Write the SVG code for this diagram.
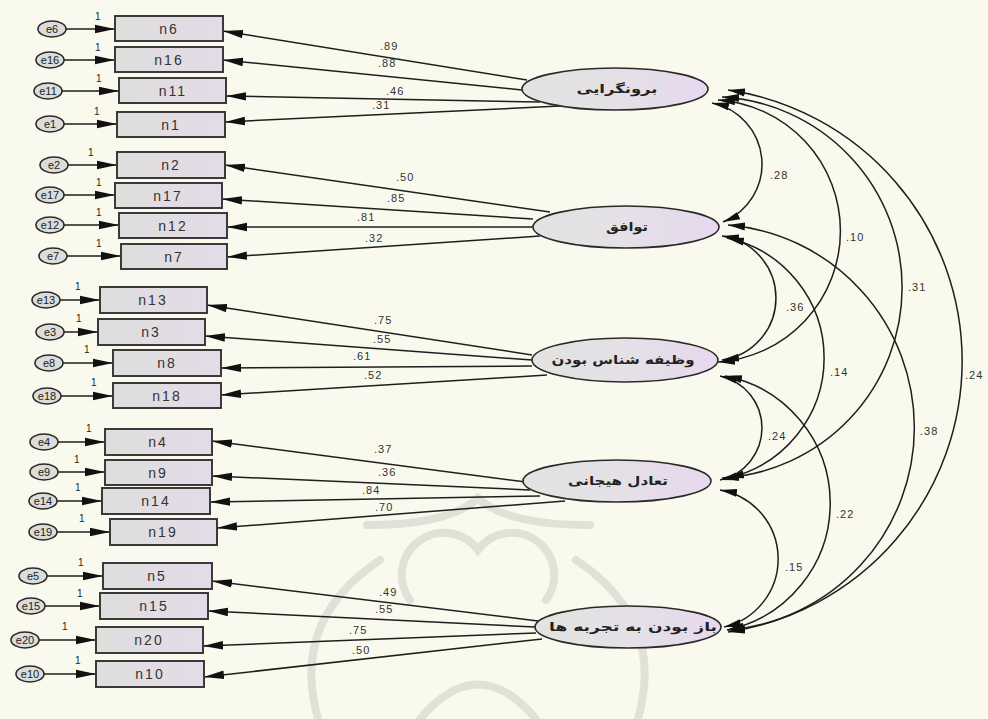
<svg xmlns="http://www.w3.org/2000/svg" width="988" height="719" viewBox="0 0 988 719">
<defs>
<linearGradient id="gEl" x1="0" y1="0" x2="1" y2="0">
<stop offset="0" stop-color="#e3e3e1"/><stop offset="0.45" stop-color="#e4e1e6"/><stop offset="1" stop-color="#e7d8ef"/>
</linearGradient>
<linearGradient id="gBox" x1="0" y1="0" x2="1" y2="0">
<stop offset="0" stop-color="#dededc"/><stop offset="1" stop-color="#e4dbe8"/>
</linearGradient>
<marker id="ah" markerUnits="userSpaceOnUse" markerWidth="21" markerHeight="10" refX="20" refY="5" orient="auto-start-reverse" viewBox="0 0 21 10">
<path d="M0,0.8 L20,5 L0,9.2 z" fill="#111"/>
</marker>
<marker id="ac" markerUnits="userSpaceOnUse" markerWidth="18" markerHeight="10" refX="17" refY="5" orient="auto-start-reverse" viewBox="0 0 18 10">
<path d="M0,1 L17,5 L0,9 z" fill="#111"/>
</marker>
</defs>
<style>
.bx{fill:url(#gBox);stroke:#3a3a3a;stroke-width:2}
.er{fill:#dcdcda;stroke:#2a2a2a;stroke-width:1.6}
.lv{fill:url(#gEl);stroke:#2a2a2a;stroke-width:1.6}
.ln{fill:none;stroke:#1e1e1e;stroke-width:1.5;marker-end:url(#ah)}
.cv{fill:none;stroke:#1e1e1e;stroke-width:1.5;marker-start:url(#ac);marker-end:url(#ac)}
.tb{font-family:"Liberation Sans",Arial,sans-serif;font-size:14px;fill:#333;text-anchor:middle;letter-spacing:2px}
.te{font-family:"Liberation Sans",Arial,sans-serif;font-size:11px;fill:#222;text-anchor:middle}
.t1{font-family:"Liberation Sans",Arial,sans-serif;font-size:10px;fill:#222}
.tl{font-family:"Liberation Sans",Arial,sans-serif;font-size:11px;fill:#333;letter-spacing:1px}
.ta{font-family:"DejaVu Sans",sans-serif;font-size:12px;font-weight:bold;fill:#222;text-anchor:middle}
.wm{fill:none;stroke:#e1e1d7;stroke-width:8;stroke-linecap:round}
</style>
<rect x="0" y="0" width="988" height="719" fill="#f9f9ee"/>
<g id="watermark">
<path class="wm" d="M367,525 Q450,525 478,498 Q506,525 590,525"/>
<path class="wm" d="M318,719 Q290,620 380,560"/>
<path class="wm" d="M638,719 Q666,620 576,560"/>
<path class="wm" d="M410,600 A40 40 0 0 1 478,550 A40 40 0 0 1 546,600"/>
<path class="wm" d="M420,719 Q478,650 536,719"/>
</g>
<g id="connectors">
<path class="ln" d="M66,29 L115,29"/>
<path class="ln" d="M64,60 L115,60"/>
<path class="ln" d="M62,91 L119,91"/>
<path class="ln" d="M64,124 L117,124"/>
<path class="ln" d="M68,165 L117,165"/>
<path class="ln" d="M64,195 L115,195"/>
<path class="ln" d="M64,225 L119,225"/>
<path class="ln" d="M67,256 L121,256"/>
<path class="ln" d="M60,300 L100,300"/>
<path class="ln" d="M64,332 L98,332"/>
<path class="ln" d="M63,363 L113,363"/>
<path class="ln" d="M61,396 L113,396"/>
<path class="ln" d="M58,442 L105,442"/>
<path class="ln" d="M58,472 L105,472"/>
<path class="ln" d="M57,501 L102,501"/>
<path class="ln" d="M57,532 L110,532"/>
<path class="ln" d="M47,576 L103,576"/>
<path class="ln" d="M45,606 L100,606"/>
<path class="ln" d="M39,640 L96,640"/>
<path class="ln" d="M44,674 L96,674"/>
<path class="ln" d="M527,80 L223,31"/>
<path class="ln" d="M522,90 L223,60"/>
<path class="ln" d="M540,102 L226,96"/>
<path class="ln" d="M560,106 L225,122"/>
<path class="ln" d="M550,212 L225,165"/>
<path class="ln" d="M533,219 L222,199"/>
<path class="ln" d="M533,227 L227,227"/>
<path class="ln" d="M540,236 L227,257"/>
<path class="ln" d="M532,355 L207,305"/>
<path class="ln" d="M532,360 L205,336"/>
<path class="ln" d="M532,366 L221,368"/>
<path class="ln" d="M547,375 L221,395"/>
<path class="ln" d="M526,482 L212,441"/>
<path class="ln" d="M530,490 L212,476"/>
<path class="ln" d="M540,496 L210,502"/>
<path class="ln" d="M565,501 L217,528"/>
<path class="ln" d="M538,621 L212,581"/>
<path class="ln" d="M535,627 L208,611"/>
<path class="ln" d="M536,633 L203,646"/>
<path class="ln" d="M542,639 L204,677"/>
<path class="cv" d="M712,103 A62.4 62.4 0 0 1 723,222"/>
<path class="cv" d="M718,100 A131.3 131.3 0 0 1 718,362"/>
<path class="cv" d="M722,97 A190.8 190.8 0 0 1 722,478"/>
<path class="cv" d="M728,90 A273.9 273.9 0 0 1 728,632"/>
<path class="cv" d="M722,236 A62.6 62.6 0 0 1 722,360"/>
<path class="cv" d="M727,238 A122.7 122.7 0 0 1 727,478"/>
<path class="cv" d="M728,225 A203.2 203.2 0 0 1 728,630"/>
<path class="cv" d="M720,376 A53.2 53.2 0 0 1 720,480"/>
<path class="cv" d="M725,376 A129.5 129.5 0 0 1 727,630"/>
<path class="cv" d="M720,490 A69.9 69.9 0 0 1 724,627"/>
</g>
<g id="loading-labels">
<text class="tl" x="380" y="50">.89</text>
<text class="tl" x="378" y="67">.88</text>
<text class="tl" x="386" y="95">.46</text>
<text class="tl" x="372" y="109">.31</text>
<text class="tl" x="396" y="181">.50</text>
<text class="tl" x="387" y="202">.85</text>
<text class="tl" x="357" y="221">.81</text>
<text class="tl" x="365" y="242">.32</text>
<text class="tl" x="374" y="324">.75</text>
<text class="tl" x="373" y="343">.55</text>
<text class="tl" x="353" y="360">.61</text>
<text class="tl" x="364" y="379">.52</text>
<text class="tl" x="374" y="453">.37</text>
<text class="tl" x="378" y="476">.36</text>
<text class="tl" x="362" y="494">.84</text>
<text class="tl" x="375" y="511">.70</text>
<text class="tl" x="379" y="596">.49</text>
<text class="tl" x="375" y="613">.55</text>
<text class="tl" x="349" y="634">.75</text>
<text class="tl" x="352" y="654">.50</text>
</g>
<g id="cov-labels">
<text class="tl" x="770" y="179">.28</text>
<text class="tl" x="846" y="241">.10</text>
<text class="tl" x="908" y="291">.31</text>
<text class="tl" x="965" y="379">.24</text>
<text class="tl" x="786" y="311">.36</text>
<text class="tl" x="830" y="376">.14</text>
<text class="tl" x="920" y="435">.38</text>
<text class="tl" x="768" y="440">.24</text>
<text class="tl" x="836" y="518">.22</text>
<text class="tl" x="785" y="571">.15</text>
</g>
<g id="F1"><ellipse class="lv" cx="615" cy="89" rx="93" ry="21"/><text class="ta" x="617" y="93" textLength="81" lengthAdjust="spacingAndGlyphs">برونگرایی</text></g>
<g id="F2"><ellipse class="lv" cx="626" cy="227" rx="93" ry="21"/><text class="ta" x="627" y="231" textLength="42" lengthAdjust="spacingAndGlyphs">توافق</text></g>
<g id="F3"><ellipse class="lv" cx="625" cy="360" rx="93" ry="22"/><text class="ta" x="623" y="364" textLength="143" lengthAdjust="spacingAndGlyphs">وظیفه شناس بودن</text></g>
<g id="F4"><ellipse class="lv" cx="617" cy="481" rx="94" ry="21"/><text class="ta" x="618" y="485" textLength="100" lengthAdjust="spacingAndGlyphs">تعادل هیجانی</text></g>
<g id="F5"><ellipse class="lv" cx="628" cy="627" rx="93" ry="21"/><text class="ta" x="633" y="631" textLength="168" lengthAdjust="spacingAndGlyphs">باز بودن به تجربه ها</text></g>
<g id="r-n6"><ellipse class="er" cx="52" cy="29" rx="14" ry="8"/><text class="te" x="52" y="33">e6</text><text class="t1" x="95" y="20">1</text><rect class="bx" x="115" y="16" width="108" height="25"/><text class="tb" x="169" y="34">n6</text></g>
<g id="r-n16"><ellipse class="er" cx="50" cy="60" rx="14" ry="8"/><text class="te" x="50" y="64">e16</text><text class="t1" x="95" y="51">1</text><rect class="bx" x="115" y="47" width="108" height="25"/><text class="tb" x="169" y="65">n16</text></g>
<g id="r-n11"><ellipse class="er" cx="48" cy="91" rx="14" ry="8"/><text class="te" x="48" y="95">e11</text><text class="t1" x="96" y="82">1</text><rect class="bx" x="119" y="78" width="107" height="25"/><text class="tb" x="173" y="96">n11</text></g>
<g id="r-n1"><ellipse class="er" cx="50" cy="124" rx="14" ry="8"/><text class="te" x="50" y="128">e1</text><text class="t1" x="94" y="115">1</text><rect class="bx" x="117" y="112" width="108" height="25"/><text class="tb" x="171" y="130">n1</text></g>
<g id="r-n2"><ellipse class="er" cx="54" cy="165" rx="14" ry="8"/><text class="te" x="54" y="169">e2</text><text class="t1" x="88" y="156">1</text><rect class="bx" x="117" y="152" width="108" height="26"/><text class="tb" x="171" y="170">n2</text></g>
<g id="r-n17"><ellipse class="er" cx="50" cy="195" rx="14" ry="8"/><text class="te" x="50" y="199">e17</text><text class="t1" x="96" y="186">1</text><rect class="bx" x="115" y="183" width="107" height="25"/><text class="tb" x="168" y="201">n17</text></g>
<g id="r-n12"><ellipse class="er" cx="50" cy="225" rx="14" ry="8"/><text class="te" x="50" y="229">e12</text><text class="t1" x="96" y="216">1</text><rect class="bx" x="119" y="213" width="108" height="25"/><text class="tb" x="173" y="231">n12</text></g>
<g id="r-n7"><ellipse class="er" cx="53" cy="256" rx="14" ry="8"/><text class="te" x="53" y="260">e7</text><text class="t1" x="96" y="247">1</text><rect class="bx" x="121" y="244" width="106" height="25"/><text class="tb" x="174" y="262">n7</text></g>
<g id="r-n13"><ellipse class="er" cx="46" cy="300" rx="14" ry="8"/><text class="te" x="46" y="304">e13</text><text class="t1" x="75" y="290">1</text><rect class="bx" x="100" y="287" width="107" height="26"/><text class="tb" x="153" y="305">n13</text></g>
<g id="r-n3"><ellipse class="er" cx="50" cy="332" rx="14" ry="8"/><text class="te" x="50" y="336">e3</text><text class="t1" x="76" y="322">1</text><rect class="bx" x="98" y="319" width="107" height="26"/><text class="tb" x="151" y="337">n3</text></g>
<g id="r-n8"><ellipse class="er" cx="49" cy="363" rx="14" ry="8"/><text class="te" x="49" y="367">e8</text><text class="t1" x="84" y="353">1</text><rect class="bx" x="113" y="350" width="108" height="26"/><text class="tb" x="167" y="368">n8</text></g>
<g id="r-n18"><ellipse class="er" cx="47" cy="396" rx="14" ry="8"/><text class="te" x="47" y="400">e18</text><text class="t1" x="91" y="386">1</text><rect class="bx" x="113" y="383" width="108" height="25"/><text class="tb" x="167" y="401">n18</text></g>
<g id="r-n4"><ellipse class="er" cx="44" cy="442" rx="14" ry="8"/><text class="te" x="44" y="446">e4</text><text class="t1" x="86" y="432">1</text><rect class="bx" x="105" y="429" width="107" height="26"/><text class="tb" x="158" y="447">n4</text></g>
<g id="r-n9"><ellipse class="er" cx="44" cy="472" rx="14" ry="8"/><text class="te" x="44" y="476">e9</text><text class="t1" x="74" y="463">1</text><rect class="bx" x="105" y="460" width="107" height="25"/><text class="tb" x="158" y="478">n9</text></g>
<g id="r-n14"><ellipse class="er" cx="43" cy="501" rx="14" ry="8"/><text class="te" x="43" y="505">e14</text><text class="t1" x="75" y="491">1</text><rect class="bx" x="102" y="488" width="108" height="26"/><text class="tb" x="156" y="506">n14</text></g>
<g id="r-n19"><ellipse class="er" cx="43" cy="532" rx="14" ry="8"/><text class="te" x="43" y="536">e19</text><text class="t1" x="79" y="522">1</text><rect class="bx" x="110" y="519" width="107" height="26"/><text class="tb" x="163" y="537">n19</text></g>
<g id="r-n5"><ellipse class="er" cx="33" cy="576" rx="14" ry="8"/><text class="te" x="33" y="580">e5</text><text class="t1" x="78" y="566">1</text><rect class="bx" x="103" y="563" width="109" height="26"/><text class="tb" x="157" y="581">n5</text></g>
<g id="r-n15"><ellipse class="er" cx="31" cy="606" rx="14" ry="8"/><text class="te" x="31" y="610">e15</text><text class="t1" x="77" y="597">1</text><rect class="bx" x="100" y="593" width="108" height="26"/><text class="tb" x="154" y="611">n15</text></g>
<g id="r-n20"><ellipse class="er" cx="25" cy="640" rx="14" ry="8"/><text class="te" x="25" y="644">e20</text><text class="t1" x="62" y="630">1</text><rect class="bx" x="96" y="627" width="107" height="26"/><text class="tb" x="149" y="645">n20</text></g>
<g id="r-n10"><ellipse class="er" cx="30" cy="674" rx="14" ry="8"/><text class="te" x="30" y="678">e10</text><text class="t1" x="75" y="664">1</text><rect class="bx" x="96" y="661" width="108" height="26"/><text class="tb" x="150" y="679">n10</text></g>
</svg>
